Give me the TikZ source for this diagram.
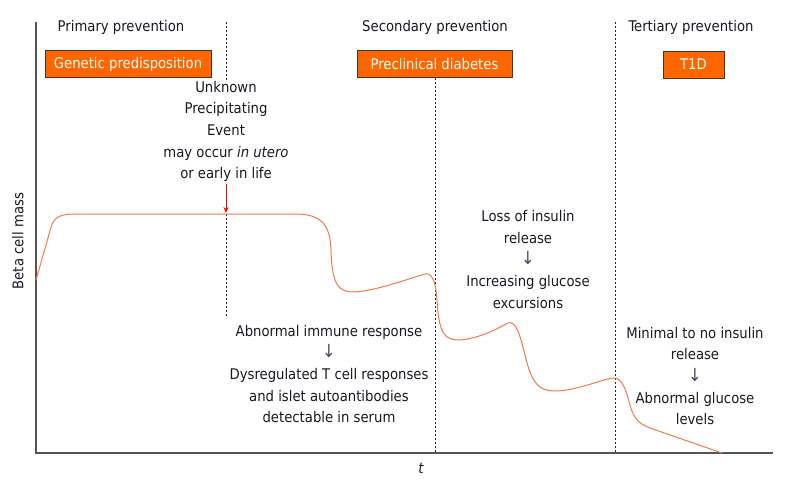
\documentclass[tikz,border=0pt]{standalone}
\usepackage{fontspec}
\setmainfont{DejaVu Sans Condensed}
\usetikzlibrary{arrows.meta}
\definecolor{txt}{RGB}{25,25,35}
\definecolor{arrc}{RGB}{80,70,100}
\definecolor{boxfill}{RGB}{255,102,0}
\definecolor{boxline}{RGB}{70,50,40}
\definecolor{curvec}{RGB}{240,120,80}
\definecolor{axisc}{RGB}{85,85,85}
\newcommand{\dnarr}{{\fontsize{18}{21.7}\selectfont\textcolor{arrc}{↓}}}
\begin{document}
\begin{tikzpicture}[x=1pt,y=-1pt,
  every node/.style={text=txt,font=\fontsize{14.7}{21.7}\selectfont,inner sep=0pt},
  lbl/.style={align=center},
  stagebox/.style={draw=boxline,line width=1pt,fill=boxfill,text=white,minimum height=27pt,inner sep=0pt},
  axis/.style={draw=axisc,line width=1.5pt},
  sep/.style={draw=black!85,line width=0.9pt,dash pattern=on 2pt off 2pt},
  bcurve/.style={draw=curvec,line width=1pt},
  trig/.style={draw=red,line width=1pt,-{Stealth[length=6pt,width=5pt]}}]
\useasboundingbox (0,0) rectangle (800,493);
% separators
\draw[sep] (226,22) -- (226,80);
\draw[sep] (226,214) -- (226,317);
\draw[sep] (435,78) -- (435,453);
\draw[sep] (615,22) -- (615,453);
% axes
\draw[axis] (36,22) -- (36,453) -- (773,453);
\node[rotate=90] (ylab) at (18,241) {Beta cell mass};
\node (xlab) at (421,468) {\itshape t};
% headings
\node (p1) at (121,27) {Primary prevention};
\node (p2) at (435,27) {Secondary prevention};
\node (p3) at (691,27) {Tertiary prevention};
% boxes
\node[stagebox,minimum width=166pt] (b1) at (128,64) {Genetic predisposition};
\node[stagebox,minimum width=155pt] (b2) at (434.5,64) {Preclinical diabetes};
\node[stagebox,minimum width=61pt] (b3) at (693.5,64.5) {T1D};
% curve
\draw[bcurve] (36,280) -- (52,224) .. controls (57,214) and (66,214) .. (80,214) -- (295,214)
  .. controls (322,214) and (330,225) .. (331,250)
  .. controls (332,288) and (340,292) .. (355,292)
  .. controls (380,290) and (410,278) .. (425,274)
  .. controls (433,272) and (436,285) .. (437,300)
  .. controls (439,335) and (445,340) .. (460,340)
  .. controls (480,338) and (495,330) .. (508,323)
  .. controls (516,320) and (520,335) .. (525,355)
  .. controls (532,385) and (540,391) .. (555,391)
  .. controls (575,391) and (600,380) .. (613,378)
  .. controls (622,377) and (626,390) .. (630,405)
  .. controls (634,420) and (640,424) .. (650,428) -- (722,453);
% texts
\node[lbl] (evt) at (226,131.5) {Unknown\\Precipitating\\Event\\may occur \textit{in utero}\\or early in life};
\coordinate (hit) at (226,213);
\draw[trig] (226,184) -- (hit);
\node[lbl] (imm) at (329,374) {Abnormal immune response\\\dnarr\\Dysregulated T cell responses\\and islet autoantibodies\\detectable in serum};
\node[lbl] (ins) at (528,259.5) {Loss of insulin\\release\\\dnarr\\Increasing glucose\\excursions};
\node[lbl] (min) at (695,376) {Minimal to no insulin\\release\\\dnarr\\Abnormal glucose\\levels};
\end{tikzpicture}
\end{document}
